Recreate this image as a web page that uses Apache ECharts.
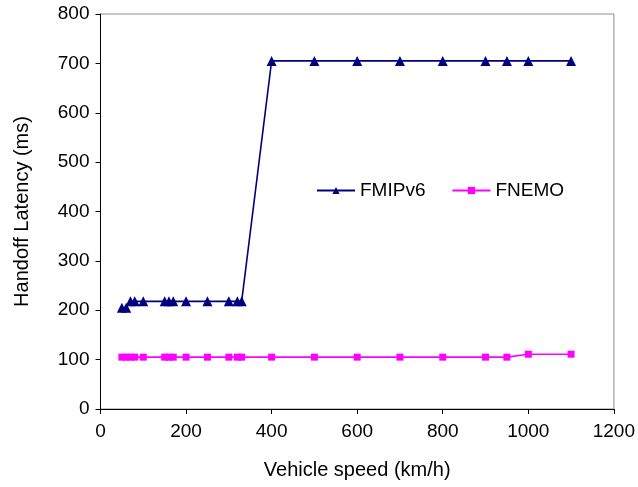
<!DOCTYPE html>
<html>
<head>
<meta charset="utf-8">
<script src="https://cdn.jsdelivr.net/npm/echarts@6/dist/echarts.min.js"></script>
<style>
html,body{margin:0;padding:0;background:#fff;}
#chart{width:638px;height:487px;}
</style>
</head>
<body>
<div id="chart"></div>
<script>
const speeds = [50,60,70,80,100,150,160,170,200,250,300,320,330,400,500,600,700,800,900,950,1000,1100];
const fmipv6 = [205,205,218,218,218,218,218,218,218,218,218,218,218,705,705,705,705,705,705,705,705,705];
const fnemo  = [105,105,105,105,105,105,105,105,105,105,105,105,105,105,105,105,105,105,105,105,111,111];
const seriesNames = ['FMIPv6','FNEMO'];

const font = 'Liberation Sans, Arial, sans-serif';
const chart = echarts.init(document.getElementById('chart'));
chart.setOption({
  animation: false,
  backgroundColor: '#fff',
  grid: {left: 100.5, right: 23, top: 14, bottom: 78, show: true, borderColor: '#8c8c8c', borderWidth: 1, backgroundColor: 'transparent'},
  legend: {
    data: seriesNames, left: 311, top: 176, itemWidth: 38, itemHeight: 9, itemGap: 26,
    textStyle: {fontFamily: font, fontSize: 19, color: '#000', padding: [0,0,0,0]}
  },
  xAxis: {
    type: 'value', min: 0, max: 1200, interval: 200,
    name: 'Vehicle speed (km/h)', nameLocation: 'middle', nameGap: 51,
    nameTextStyle: {fontFamily: font, fontSize: 20, color: '#000'},
    axisLine: {show: true, lineStyle: {color: '#000', width: 1}},
    axisTick: {show: true, length: 5, lineStyle: {color: '#000'}},
    axisLabel: {fontFamily: font, fontSize: 19, color: '#000', margin: 13, formatter: v => String(v)},
    splitLine: {show: false}
  },
  yAxis: {
    type: 'value', min: 0, max: 800, interval: 100,
    name: 'Handoff Latency (ms)', nameLocation: 'middle', nameGap: 68, nameRotate: 90,
    nameTextStyle: {fontFamily: font, fontSize: 20, color: '#000'},
    axisLine: {show: true, lineStyle: {color: '#000', width: 1}},
    axisTick: {show: true, length: 5, lineStyle: {color: '#000'}},
    axisLabel: {fontFamily: font, fontSize: 19, color: '#000', margin: 11, formatter: v => String(v)},
    splitLine: {show: false}
  },
  series: [
    {
      name: seriesNames[0], type: 'line', data: speeds.map((s,i)=>[s, fmipv6[i]]),
      symbol: 'triangle', symbolSize: 10, showAllSymbol: true,
      lineStyle: {color: '#000080', width: 1.6},
      itemStyle: {color: '#000080', borderWidth: 0}
    },
    {
      name: seriesNames[1], type: 'line', data: speeds.map((s,i)=>[s, fnemo[i]]),
      symbol: 'rect', symbolSize: 7, showAllSymbol: true,
      lineStyle: {color: '#ff00ff', width: 1.6},
      itemStyle: {color: '#ff00ff', borderWidth: 0}
    }
  ]
});
</script>
</body>
</html>
